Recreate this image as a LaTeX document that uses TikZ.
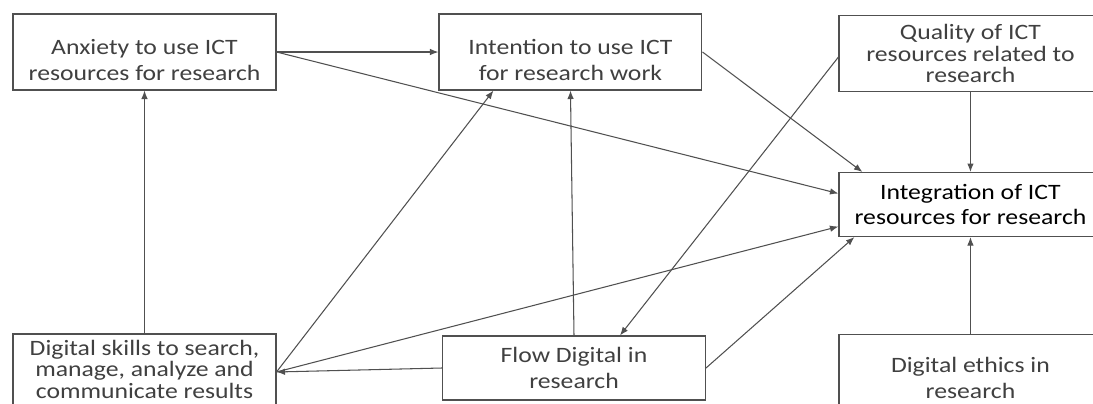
\documentclass[tikz,border=0pt]{standalone}
\usepackage{fontspec}
\setmainfont{Carlito}[FakeStretch=1.17]
\usepackage{xcolor}
\usepackage{tikz}
\usetikzlibrary{positioning,arrows.meta}
\definecolor{boxText}{HTML}{404040}
\definecolor{lineGray}{HTML}{505050}
% invisible struts to nudge a label inside its box
\newcommand{\padTop}[1]{\rule{0pt}{#1}}
\newcommand{\padBottom}[1]{\rule[-#1]{0pt}{0pt}}
\tikzset{
  factorBox/.style={
    rectangle,
    draw=lineGray,
    line width=0.6pt,
    fill=white,
    text=boxText,
    minimum width=5.26cm,
    minimum height=1.52cm,
    inner sep=1pt,
    align=center,
    font=\fontsize{12.5}{14.6}\selectfont
  },
  arrowLine/.style={
    -{Latex[length=1.7mm,width=1.3mm]},
    draw=lineGray,
    line width=0.6pt
  }
}

\begin{document}
\begin{tikzpicture}[x=0.02cm,y=-0.02cm]
        \useasboundingbox (0,0) rectangle (1093,403);
        \clip (0,0) rectangle (1093,403);

        \node[factorBox] (anxiety) at (144.5,52) {\padTop{18pt}Anxiety to use ICT\\resources for research};
        \node[factorBox, right=3.24cm of anxiety] (intention) {\padTop{18pt}Intention to use ICT\\for research work};
        \node[factorBox, right=2.72cm of intention, yshift=-0.03cm, font=\fontsize{12.5}{12}\selectfont] (quality) {Quality of ICT\\resources related to\\research};
        \node[factorBox, below=1.6cm of quality, minimum height=1.28cm, text=black, font=\fontsize{12.5}{13.8}\selectfont] (integration) {Integration of ICT\\resources for research};
        \node[factorBox, below=1.94cm of integration, font=\fontsize{12.5}{14.8}\selectfont] (ethics) {\padTop{14.8pt}Digital ethics in\\research};

        \node[factorBox, below=4.86cm of anxiety, font=\fontsize{12.5}{12.2}\selectfont] (skills) {Digital skills to search,\\manage, analyze and\\communicate results\padBottom{3.4pt}};
        \node[factorBox, minimum height=1.28cm, font=\fontsize{12.5}{15.2}\selectfont] (flow) at (574,368) {Flow Digital in\\research};

        % paths between the factors
        \draw[arrowLine] (anxiety) -- (intention);
        \draw[arrowLine] (anxiety.east) -- ([yshift=0.22cm]integration.west);
        \draw[arrowLine] (intention.east) -- ([xshift=0.48cm]integration.north west);
        \draw[arrowLine] ([yshift=-0.07cm]quality.west) -- ([xshift=0.92cm]flow.north);
        \draw[arrowLine] (quality) -- (integration);
        \draw[arrowLine] (ethics) -- (integration);
        \draw[arrowLine] (skills) -- (anxiety);
        \draw[arrowLine] (skills.east) -- ([xshift=1.1cm]intention.south west);
        \draw[arrowLine] (flow.north) -- (intention.south);
        \draw[arrowLine] (flow.west) -- (skills.east);
        \draw[arrowLine] (skills.east) -- ([yshift=-0.44cm]integration.west);
        \draw[arrowLine] (flow.east) -- ([xshift=0.32cm]integration.south west);

    \end{tikzpicture}
\end{document}
